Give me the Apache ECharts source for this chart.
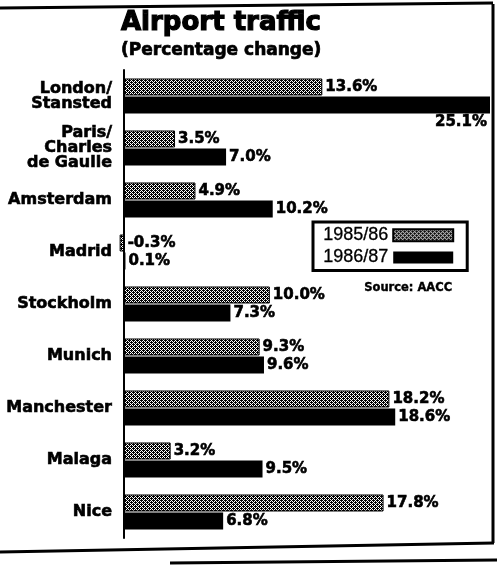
<!DOCTYPE html>
<html>
<head>
<meta charset="utf-8">
<script src="https://cdn.jsdelivr.net/npm/echarts@6/dist/echarts.min.js"></script>
<style>html,body{margin:0;padding:0;background:#fff;}#c{width:497px;height:566px;}</style>
</head>
<body>
<div id="c"></div>
<script>
var categories = ['London/\nStansted', 'Paris/\nCharles\nde Gaulle', 'Amsterdam', 'Madrid', 'Stockholm', 'Munich', 'Manchester', 'Malaga', 'Nice'];
var series8586 = [13.6, 3.5, 4.9, -0.3, 10.0, 9.3, 18.2, 3.2, 17.8];
var series8687 = [25.1, 7.0, 10.2, 0.1, 7.3, 9.6, 18.6, 9.5, 6.8];
var seriesNames = ['1985/86', '1986/87'];

var pc = document.createElement('canvas');
pc.width = 4; pc.height = 4;
var g = pc.getContext('2d');
g.fillStyle = '#fff'; g.fillRect(0, 0, 4, 4);
g.fillStyle = '#000';
[[0,0],[2,0],[1,1],[3,1],[0,2],[2,2],[1,3],[3,3],[1,0],[3,2]].forEach(function(p){ g.fillRect(p[0], p[1], 1, 1); });
var hatch = { image: pc, repeat: 'repeat' };

var FONT = 'DejaVu Sans';
var HEAVY = { textBorderColor: '#000', textBorderWidth: 0.6 };
function fmt(p) { return p.value.toFixed(1) + '%'; }
var labelBase = Object.assign({ show: true, position: 'right', distance: 3, color: '#000', fontFamily: FONT, fontWeight: 'bold', fontSize: 15, formatter: fmt }, HEAVY);

var d1 = series8586.map(function (v) {
  if (v < 0) return { value: v, label: { position: [8, '50%'], align: 'left', verticalAlign: 'middle' } };
  return v;
});
var maxV = Math.max.apply(null, series8687);
var d2 = series8687.map(function (v) {
  if (v === maxV) return { value: v, label: { position: ['100%', '100%'], align: 'right', verticalAlign: 'top', offset: [-3, 1] } };
  return v;
});

var chart = echarts.init(document.getElementById('c'));
chart.setOption({
  animation: false,
  backgroundColor: '#fff',
  title: {
    text: 'Airport traffic', subtext: '(Percentage change)',
    left: 116, top: 5, itemGap: 5,
    textStyle: Object.assign({ fontFamily: FONT, fontWeight: 900, fontSize: 26, color: '#000' }, { textBorderColor: '#000', textBorderWidth: 1.2 }),
    subtextStyle: Object.assign({ fontFamily: FONT, fontWeight: 'bold', fontSize: 17, color: '#000' }, { textBorderColor: '#000', textBorderWidth: 0.7 })
  },
  legend: {
    orient: 'vertical', left: 313, top: 222, align: 'right',
    data: seriesNames, icon: 'rect',
    itemWidth: 60, itemHeight: 12, itemGap: 4,
    padding: [4, 13, 4, 10],
    borderColor: '#000', borderWidth: 3,
    textStyle: { fontFamily: 'Liberation Sans', fontSize: 18, color: '#000', textBorderColor: '#000', textBorderWidth: 0.3 }
  },
  grid: { left: 124, right: 7, top: 70, bottom: 28 },
  xAxis: { type: 'value', min: 0, max: 25.1, show: false },
  yAxis: {
    type: 'category', data: categories, inverse: true,
    axisLine: { show: true, lineStyle: { color: '#000', width: 2 } },
    axisTick: { show: false },
    axisLabel: Object.assign({ color: '#000', fontFamily: FONT, fontWeight: 'bold', fontSize: 16, lineHeight: 15, margin: 12 }, HEAVY)
  },
  series: [
    { name: seriesNames[0], type: 'bar', data: d1, barWidth: 17, barGap: '6%', clip: false,
      itemStyle: { color: hatch, borderColor: '#000', borderWidth: 1 }, label: labelBase },
    { name: seriesNames[1], type: 'bar', data: d2, barWidth: 17, clip: false,
      itemStyle: { color: '#000' }, label: labelBase }
  ],
  graphic: [
    { type: 'text', left: 364, top: 282, style: { text: 'Source: AACC', fontFamily: FONT, fontWeight: 'bold', fontSize: 11.5, fill: '#000', stroke: '#000', lineWidth: 0.4 } },
    { type: 'polyline', shape: { points: [[0, 8], [493, 3]] }, style: { stroke: '#000', lineWidth: 3, fill: null } },
    { type: 'polyline', shape: { points: [[493, 4], [493, 543]] }, style: { stroke: '#000', lineWidth: 3, fill: null } },
    { type: 'polyline', shape: { points: [[0, 552], [494, 543]] }, style: { stroke: '#000', lineWidth: 3, fill: null } },
    { type: 'polyline', shape: { points: [[170, 563], [497, 560]] }, style: { stroke: '#000', lineWidth: 3, fill: null } }
  ]
});
</script>
</body>
</html>
